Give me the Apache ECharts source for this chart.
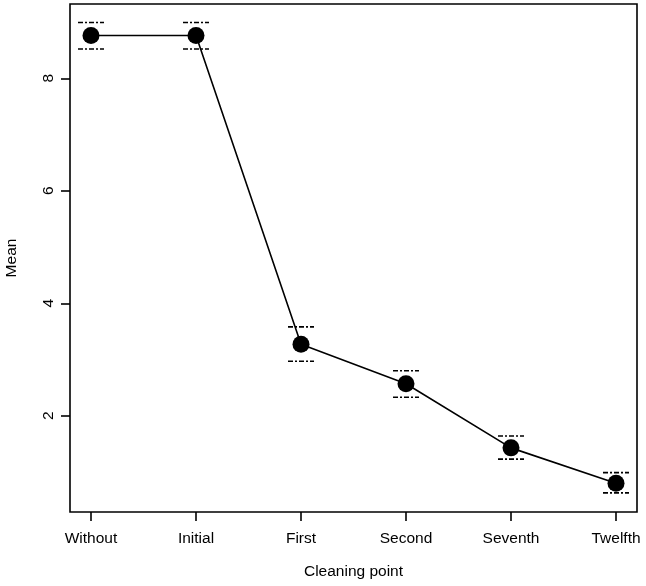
<!DOCTYPE html>
<html><head><meta charset="utf-8">
<script src="https://cdn.jsdelivr.net/npm/echarts@6/dist/echarts.min.js"></script>
<style>html,body{margin:0;padding:0;background:#fff}#c{width:646px;height:586px}</style>
</head><body><div id="c"></div>
<script>
var categories = ["Without","Initial","First","Second","Seventh","Twelfth"];
var means = [8.76, 8.76, 3.27, 2.57, 1.43, 0.80];
var upper = [8.99, 8.99, 3.58, 2.80, 1.64, 0.99];
var lower = [8.52, 8.52, 2.97, 2.33, 1.23, 0.63];
var yTicks = [2, 4, 6, 8];

var pts = means.map(function(v,i){return [i+1, v];});
var errs = means.map(function(v,i){return [i+1, lower[i], upper[i]];});
var font = '"Liberation Sans", Arial, sans-serif';

var chart = echarts.init(document.getElementById('c'), null, {renderer:'canvas'});
chart.setOption({
  animation:false,
  backgroundColor:'#fff',
  grid:{left:70,right:9,top:4,bottom:74,containLabel:false,outerBoundsMode:'none',show:true,borderColor:'#000',borderWidth:1.6,backgroundColor:'transparent'},
  xAxis:{type:'value',min:0.8,max:6.2,
    name:'Cleaning point',nameLocation:'middle',nameGap:52,
    nameTextStyle:{fontFamily:font,fontSize:15.5,color:'#000'},
    axisLine:{show:false},splitLine:{show:false},
    axisTick:{show:true,length:9,lineStyle:{color:'#000',width:1.6},customValues:[1,2,3,4,5,6]},
    axisLabel:{fontFamily:font,fontSize:15.5,color:'#000',margin:19,customValues:[1,2,3,4,5,6],
      formatter:function(v){return categories[Math.round(v)-1]||'';}}
  },
  yAxis:{type:'value',min:0.29,max:9.32,
    name:'Mean',nameLocation:'middle',nameGap:50,
    nameTextStyle:{fontFamily:font,fontSize:15.5,color:'#000'},
    axisLine:{show:false},splitLine:{show:false},
    axisTick:{show:true,length:9,lineStyle:{color:'#000',width:1.6},customValues:yTicks},
    axisLabel:{fontFamily:font,fontSize:15.5,color:'#000',margin:13,rotate:90,customValues:yTicks}
  },
  series:[
    {type:'custom',data:errs,z:3,
     renderItem:function(params,api){
       var x=api.coord([api.value(0),api.value(1)]);
       var lo=x[1], hi=api.coord([api.value(0),api.value(2)])[1], cx=x[0];
       var st={stroke:'#000',lineWidth:1.6,lineDash:[5,2,2,2]};
       return {type:'group',children:[
         {type:'line',shape:{x1:cx-13,y1:hi,x2:cx+13,y2:hi},style:st},
         {type:'line',shape:{x1:cx-13,y1:lo,x2:cx+13,y2:lo},style:st}
       ]};
     }},
    {type:'line',data:pts,symbol:'circle',symbolSize:17,z:4,
     itemStyle:{color:'#000'},lineStyle:{color:'#000',width:1.6}}
  ]
});
</script></body></html>
